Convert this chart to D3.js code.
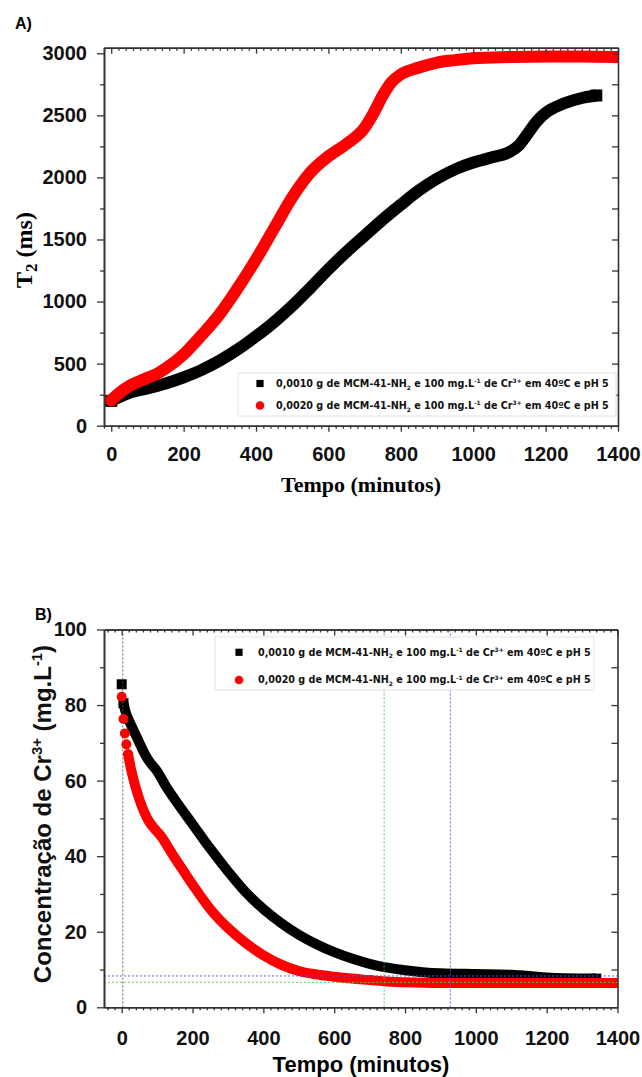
<!DOCTYPE html>
<html>
<head>
<meta charset="utf-8">
<script src="https://cdn.jsdelivr.net/npm/d3@7"></script>
<style>
  html, body { margin: 0; padding: 0; background: #fff; }
  svg { display: block; }
</style>
</head>
<body>
<svg id="chart" width="642" height="1077"></svg>
<script>
// ---- Panel A: T2 relaxation time (ms) vs time (minutes) ----
const aBlackTime = [0, 50, 100, 150, 200, 250, 300, 350, 400, 450, 500, 550, 600, 650, 700, 750, 800, 850, 900, 950, 1000, 1050, 1100, 1125, 1150, 1175, 1200, 1250, 1300, 1340];
const aBlackT2   = [200, 265, 300, 340, 390, 450, 525, 615, 720, 835, 965, 1110, 1260, 1400, 1530, 1660, 1780, 1895, 1990, 2065, 2120, 2160, 2205, 2255, 2350, 2450, 2520, 2595, 2640, 2660];
const aRedTime   = [0, 25, 50, 75, 100, 125, 150, 200, 250, 300, 350, 400, 450, 500, 550, 600, 650, 700, 725, 750, 775, 800, 850, 900, 950, 1000, 1100, 1200, 1300, 1400];
const aRedT2     = [205, 270, 320, 355, 385, 415, 460, 575, 730, 900, 1110, 1340, 1590, 1840, 2040, 2170, 2270, 2400, 2520, 2660, 2770, 2830, 2885, 2925, 2945, 2960, 2970, 2975, 2975, 2970];

// ---- Panel B: Cr3+ concentration (mg/L) vs time (minutes) ----
const bBlackTime = [0, 5, 10, 20, 30, 40, 50, 60, 75, 100, 125, 150, 200, 250, 300, 350, 400, 450, 500, 550, 600, 650, 700, 750, 800, 850, 900, 1000, 1100, 1150, 1200, 1250, 1340];
const bBlackConc = [85.5, 80.5, 78.5, 76, 74, 72, 70, 68, 65.5, 62.5, 58.5, 55, 48.5, 42, 36, 30.5, 26, 22.3, 19.2, 16.7, 14.6, 12.9, 11.5, 10.5, 9.8, 9.3, 9.0, 8.8, 8.6, 8.3, 7.9, 7.7, 7.6];
const bRedTime   = [0, 5, 9, 13, 18, 22, 30, 40, 50, 75, 100, 115, 130, 150, 175, 200, 250, 300, 350, 400, 450, 500, 550, 600, 650, 700, 750, 800, 900, 1000, 1400];
const bRedConc   = [82.2, 76.3, 72.5, 69.6, 67, 65, 61.5, 58, 55, 49.5, 46.5, 44.8, 42.5, 39.5, 36, 32.5, 26, 21, 17, 13.8, 11.3, 9.6, 8.7, 8.1, 7.6, 7.2, 6.8, 6.6, 6.4, 6.4, 6.4];
// leading samples that stand apart as individual markers before the dense band
const bBlackLead = 1;
const bRedLead = 4;

// reference guides in panel B
const guideTimes  = [3, 741, 928];
const guideLevels = [8.3, 6.6];

// axis ticks
const timeTicks = [0, 200, 400, 600, 800, 1000, 1200, 1400];
const t2Ticks = [0, 500, 1000, 1500, 2000, 2500, 3000];
const concTicks = [0, 20, 40, 60, 80, 100];

// legend labels (text runs: plain / sub / sup)
const legendBlack = [["0,0010 g de MCM-41-NH", ""], ["2", "sub"], [" e 100 mg.L", ""], ["-1", "sup"], [" de Cr", ""], ["3+", "sup"], [" em 40ºC e pH 5", ""]];
const legendRed   = [["0,0020 g de MCM-41-NH", ""], ["2", "sub"], [" e 100 mg.L", ""], ["-1", "sup"], [" de Cr", ""], ["3+", "sup"], [" em 40ºC e pH 5", ""]];

const svg = d3.select("#chart");
const AXIS = "#333";
const SANS = "'Liberation Sans', Arial, sans-serif";
const SERIF = "'Liberation Serif', 'Times New Roman', serif";
const LEG = "'DejaVu Sans', Verdana, sans-serif";
const fmt = d3.format("d");

function range(a, b, s) { const r = []; for (let v = a; v <= b + 1e-9; v += s) r.push(+v.toFixed(6)); return r; }

function richText(sel, parts, size) {
  let shift = 0;
  parts.forEach(([s, k]) => {
    const target = k === "sup" ? -0.38 * size : k === "sub" ? 0.28 * size : 0;
    sel.append("tspan")
      .attr("dy", target - shift)
      .attr("font-size", k ? size * 0.62 : size)
      .text(s);
    shift = target;
  });
}

function styleAxis(g) {
  g.select(".domain").attr("stroke", AXIS).attr("stroke-width", 1.6);
  g.selectAll(".tick line").attr("stroke", AXIS).attr("stroke-width", 1.3);
  g.selectAll(".tick text").attr("fill", "#111").attr("font-family", SANS)
    .attr("font-weight", "bold").attr("font-size", 20);
}

function frame(x, y, o) {
  const [x0, x1] = x.range();
  const [y0, y1] = y.range();
  const g = svg.append("g");
  // minor ticks
  g.append("g").attr("transform", `translate(0,${y0})`)
    .call(d3.axisBottom(x).tickValues(o.xMinor).tickSize(3).tickFormat("").tickSizeOuter(0)).call(styleAxis);
  g.append("g").attr("transform", `translate(0,${y1})`)
    .call(d3.axisBottom(x).tickValues(o.xMinor).tickSize(3).tickFormat("").tickSizeOuter(0)).call(styleAxis);
  g.append("g").attr("transform", `translate(${x0},0)`)
    .call(d3.axisLeft(y).tickValues(o.yMinor).tickSize(4).tickFormat("").tickSizeOuter(0)).call(styleAxis);
  // major ticks: bottom & left outward with labels, top & right inward
  g.append("g").attr("transform", `translate(0,${y0})`)
    .call(d3.axisBottom(x).tickValues(o.xMajor).tickSize(6).tickPadding(o.xPad).tickFormat(fmt).tickSizeOuter(0)).call(styleAxis);
  g.append("g").attr("transform", `translate(0,${y1})`)
    .call(d3.axisBottom(x).tickValues(o.xMajor).tickSize(6).tickFormat("").tickSizeOuter(0)).call(styleAxis);
  g.append("g").attr("transform", `translate(${x0},0)`)
    .call(d3.axisLeft(y).tickValues(o.yMajor).tickSize(7).tickPadding(10).tickFormat(fmt).tickSizeOuter(0)).call(styleAxis);
  g.append("g").attr("transform", `translate(${x1},0)`)
    .call(d3.axisLeft(y).tickValues(o.yRight).tickSize(6).tickFormat("").tickSizeOuter(0)).call(styleAxis);
}

function plotClip(id, x, y) {
  const [x0, x1] = x.range();
  const [y0, y1] = y.range();
  svg.append("clipPath").attr("id", id).append("rect")
    .attr("x", x0).attr("y", y1).attr("width", x1 - x0).attr("height", y0 - y1);
  return svg.append("g").attr("clip-path", `url(#${id})`);
}

function series(layer, x, y, times, vals, lead, color, shape, width) {
  const pts = times.map((t, i) => [t, vals[i]]);
  const band = pts.slice(lead);
  const line = d3.line().x(d => x(d[0])).y(d => y(d[1])).curve(d3.curveMonotoneX);
  layer.append("path").datum(band)
    .attr("d", line).attr("fill", "none").attr("stroke", color)
    .attr("stroke-width", width).attr("stroke-linejoin", "round")
    .attr("stroke-linecap", shape === "circle" ? "round" : "butt");
  const marks = pts.slice(0, lead + 1).concat([pts[pts.length - 1]]);
  if (shape === "circle") {
    layer.append("g").selectAll("circle").data(marks).join("circle")
      .attr("cx", d => x(d[0])).attr("cy", d => y(d[1])).attr("r", width / 2).attr("fill", color);
  } else {
    layer.append("g").selectAll("rect").data(marks).join("rect")
      .attr("x", d => x(d[0]) - width / 2).attr("y", d => y(d[1]) - width / 2)
      .attr("width", width).attr("height", width).attr("fill", color);
  }
}

function legend(x0, y0, w, h, rows, mx, tx, fontSize) {
  const g = svg.append("g");
  g.append("rect").attr("x", x0).attr("y", y0).attr("width", w).attr("height", h)
    .attr("fill", "#fff").attr("stroke", "#e2e2e2").attr("stroke-width", 1);
  rows.forEach(r => {
    if (r.shape === "square") {
      g.append("rect").attr("x", mx - 3.6).attr("y", r.y - 3.6).attr("width", 7.2).attr("height", 7.2).attr("fill", r.color);
    } else {
      g.append("circle").attr("cx", mx).attr("cy", r.y).attr("r", 4.3).attr("fill", r.color);
    }
    const t = g.append("text").attr("x", tx).attr("y", r.y + fontSize * 0.36)
      .attr("font-family", LEG).attr("font-weight", "bold").attr("fill", "#111");
    richText(t, r.parts, fontSize);
  });
}

// ================= Panel A =================
const xA = d3.scaleLinear().domain([-20, 1400]).range([104, 618]);
const yA = d3.scaleLinear().domain([0, 3045]).range([425.7, 47.7]);
const layerA = plotClip("clipA", xA, yA);

series(layerA, xA, yA, aBlackTime, aBlackT2, 0, "#000", "square", 12);
series(layerA, xA, yA, aRedTime, aRedT2, 0, "#ff0000", "circle", 12);

frame(xA, yA, {
  xMajor: timeTicks, xMinor: range(-20, 1400, 20).filter(v => v % 200 !== 0), xPad: 15,
  yMajor: t2Ticks, yMinor: range(250, 2750, 500), yRight: range(250, 3000, 250)
});

legend(238, 373, 378, 43, [
  { y: 383.5, color: "#000", shape: "square", parts: legendBlack },
  { y: 405.5, color: "#ff0000", shape: "circle", parts: legendRed }
], 260, 276, 9.6);

svg.append("text").attr("x", 15).attr("y", 29).attr("font-family", SANS)
  .attr("font-weight", "bold").attr("font-size", 16).text("A)");

svg.append("text").attr("x", 361).attr("y", 492).attr("text-anchor", "middle")
  .attr("font-family", SERIF).attr("font-weight", "bold").attr("font-size", 22).text("Tempo (minutos)");

const yTitleA = svg.append("text").attr("transform", "translate(32,250) rotate(-90)")
  .attr("text-anchor", "middle").attr("font-family", SERIF).attr("font-weight", "bold");
yTitleA.append("tspan").attr("font-size", 24).text("T");
yTitleA.append("tspan").attr("font-size", 17).attr("dy", 5).text("2");
yTitleA.append("tspan").attr("font-size", 24).attr("dy", -5).text(" (ms)");

// ================= Panel B =================
const xB = d3.scaleLinear().domain([-50, 1400]).range([104, 617.5]);
const yB = d3.scaleLinear().domain([0, 100]).range([1007.3, 629.5]);
const layerB = plotClip("clipB", xB, yB);

series(layerB, xB, yB, bBlackTime, bBlackConc, bBlackLead, "#000", "square", 10);
series(layerB, xB, yB, bRedTime, bRedConc, bRedLead, "#ff0000", "circle", 10);

// guide lines
const guideVColors = ["#555", "#33cc33", "#5050ff"];
const guideHColors = ["#5050ff", "#55cc55"];
guideTimes.forEach((t, i) => {
  svg.append("line").attr("x1", xB(t)).attr("x2", xB(t)).attr("y1", yB(100)).attr("y2", yB(0))
    .attr("stroke", guideVColors[i]).attr("stroke-width", 0.9).attr("stroke-dasharray", "2,2");
});
guideLevels.forEach((v, i) => {
  svg.append("line").attr("x1", xB(-50)).attr("x2", xB(1400)).attr("y1", yB(v)).attr("y2", yB(v))
    .attr("stroke", guideHColors[i]).attr("stroke-width", 0.9).attr("stroke-dasharray", "2,2");
});

frame(xB, yB, {
  xMajor: timeTicks, xMinor: range(-40, 1400, 20).filter(v => v % 200 !== 0), xPad: 18,
  yMajor: concTicks, yMinor: range(10, 90, 20), yRight: range(10, 100, 10)
});

legend(215, 637, 379, 53, [
  { y: 652.3, color: "#000", shape: "square", parts: legendBlack },
  { y: 680, color: "#ff0000", shape: "circle", parts: legendRed }
], 239, 258, 9.6);

svg.append("text").attr("x", 35).attr("y", 620).attr("font-family", SANS)
  .attr("font-weight", "bold").attr("font-size", 16).text("B)");

svg.append("text").attr("x", 361).attr("y", 1072).attr("text-anchor", "middle")
  .attr("font-family", SANS).attr("font-weight", "bold").attr("font-size", 22).text("Tempo (minutos)");

const yTitleB = svg.append("text").attr("transform", "translate(51,814) rotate(-90)")
  .attr("text-anchor", "middle").attr("font-family", SANS).attr("font-weight", "bold").attr("fill", "#111");
richText(yTitleB, [["Concentração de Cr", ""], ["3+", "sup"], [" (mg.L", ""], ["-1", "sup"], [")", ""]], 24);
</script>
</body>
</html>
